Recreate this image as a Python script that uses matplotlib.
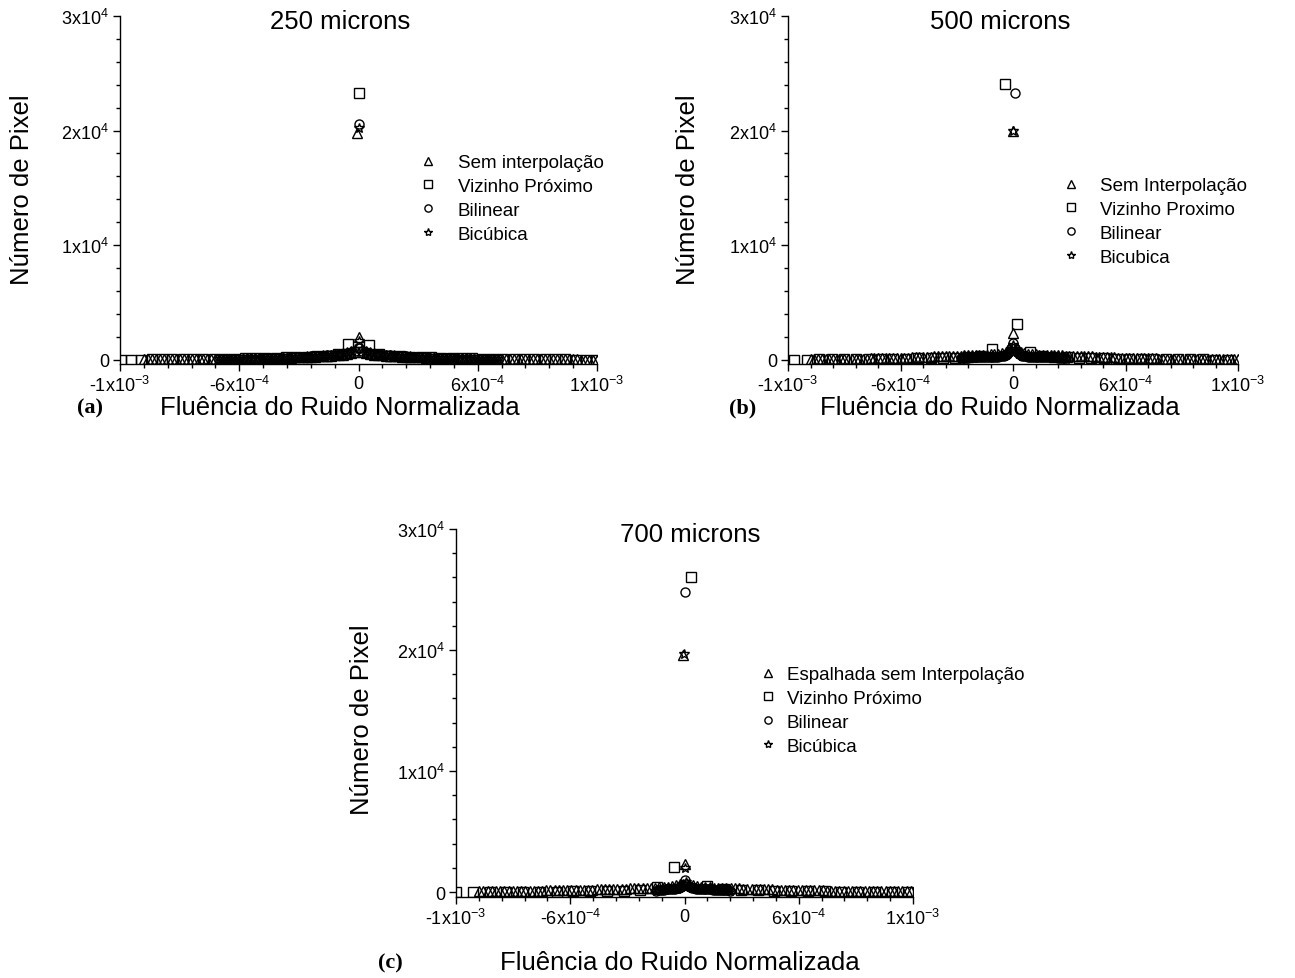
import numpy as np
import matplotlib.pyplot as plt
from matplotlib.ticker import MultipleLocator

plt.rcParams["font.family"] = ["Liberation Sans", "DejaVu Sans"]
plt.rcParams["mathtext.fontset"] = "custom"
plt.rcParams["mathtext.rm"] = "Liberation Sans"
plt.rcParams["mathtext.it"] = "Liberation Sans:italic"
plt.rcParams["mathtext.bf"] = "Liberation Sans:bold"
plt.rcParams["mathtext.default"] = "regular"

# ---------------- dados ----------------
xticks_val = [-1.2e-3, -6e-4, 0, 6e-4, 1.2e-3]
xticks_lab = ["-1x10$^{-3}$", "-6x10$^{-4}$", "0", "6x10$^{-4}$", "1x10$^{-3}$"]
yticks_val = [0, 1e4, 2e4, 3e4]
yticks_lab = ["0", "1x10$^4$", "2x10$^4$", "3x10$^4$"]

# (a) 250 microns
tri_a_x0, tri_a_dx = -1.08e-3, 2e-5
tri_a_y = [20, 20, 25, 25, 30, 30, 35, 35, 40, 40, 45, 45, 50, 55, 55, 60, 65, 70, 70, 75,
           80, 85, 90, 95, 100, 105, 110, 115, 120, 130, 135, 140, 150, 155, 165, 170, 180, 190, 200, 210,
           220, 235, 250, 265, 280, 300, 320, 345, 370, 400, 440, 490, 560, 680,
           2000,
           680, 560, 490, 440, 400, 370, 345, 320, 300, 280, 265, 250, 235, 220, 210, 200, 190, 180, 170, 165,
           155, 150, 140, 135, 130, 120, 115, 110, 105, 100, 95, 90, 85, 80, 75, 70, 70, 65, 60, 55,
           55, 50, 45, 45, 40, 40, 35, 35, 30, 30, 25, 25, 20, 20, 20, 15, 15, 15, 10, 10]
tri_a_pico = (-1e-5, 19800)
sq_a_x0, sq_a_dx = -1.196e-3, 5.2e-5
sq_a_y = [10, 10, 15, 20, 25, 30, 40, 50, 60, 70, 80, 100, 120, 140, 160, 180, 200, 230, 260, 300,
          360, 530, 1400, 23300, 1300, 530, 360, 300, 260, 230, 200, 180, 160, 140, 120, 100, 80, 70, 60, 50,
          40, 30, 25, 20, 15, 10, 10]
circ_a_x0, circ_a_dx = -7e-4, 2e-5
circ_a_y = [40, 45, 50, 55, 60, 65, 70, 75, 80, 90, 100, 110, 120, 130, 140, 150, 165, 180, 195, 210,
            225, 240, 260, 280, 300, 320, 345, 370, 400, 430, 460, 500, 560, 640, 760,
            1050,
            760, 640, 560, 500, 460, 430, 400, 370, 345, 320, 300, 280, 260, 240, 225,
            210, 195, 180, 165, 150, 140, 130, 120, 110, 100, 90, 80, 75, 70, 65, 60, 55, 50, 45, 40]
circ_a_pico = (0, 20600)
star_a_x0, star_a_dx = -7e-4, 2e-5
star_a_y = [30, 35, 40, 45, 50, 55, 60, 70, 80, 90, 100, 110, 120, 130, 145, 160, 175, 190, 205, 220,
            240, 260, 280, 300, 320, 345, 370, 400, 430, 470, 510, 560, 640, 760, 950,
            1600,
            950, 760, 640, 560, 510, 470, 430, 400, 370, 345, 320, 300, 280, 260, 240,
            220, 205, 190, 175, 160, 145, 130, 120, 110, 100, 90, 80, 70, 60, 55, 50, 45, 40, 35, 30]
star_a_pico = (0, 20200)

# (b) 500 microns
tri_b_x0, tri_b_dx = -1.08e-3, 2e-5
tri_b_y = [60, 60, 65, 65, 70, 70, 75, 75, 80, 80, 85, 85, 90, 95, 100, 105, 110, 115, 120, 125,
           130, 140, 150, 160, 170, 180, 190, 200, 215, 230, 245, 260, 275, 290, 300, 310, 320, 330, 340, 350,
           360, 370, 380, 390, 400, 410, 420, 440, 460, 480, 520, 580, 700, 1000,
           2370,
           1000, 700, 580, 520, 480, 460, 440, 420, 410, 400, 390, 380, 370, 360, 350, 340, 330, 320, 310, 300,
           290, 275, 260, 245, 230, 215, 200, 190, 180, 170, 160, 150, 140, 130, 125, 120, 115, 110, 105, 100,
           95, 90, 85, 80, 80, 75, 75, 70, 70, 65, 65, 60, 60, 55, 55, 50, 50, 45, 45, 40]
tri_b_pico = (0, 20000)
sq_b_x0, sq_b_dx = -1.166e-3, 6.6e-5
sq_b_y = [10, 10, 20, 25, 30, 40, 50, 60, 75, 90, 110, 130, 160, 190, 240, 320, 970,
          24100,
          3080, 640, 330, 250, 200, 160, 130, 110, 90, 75, 60, 50, 40, 30, 25, 20, 10, 10]
circ_b_x0, circ_b_dx = -2.8e-4, 1e-5
circ_b_y = [120, 150, 170, 180, 190, 195, 200, 200, 205, 210, 210, 215, 220, 220, 225, 230, 235, 240, 250, 260,
            270, 290, 320, 360, 420, 520, 700, 1000,
            1500,
            1000, 700, 520, 420, 360, 320, 290, 270, 260, 250, 240, 235, 230, 225, 220, 220, 215, 210, 210, 205,
            200, 200, 195, 190, 180, 170, 150, 120]
circ_b_pico = (1e-5, 23300)
star_b_x0, star_b_dx = -2.8e-4, 1e-5
star_b_y = [100, 130, 150, 165, 175, 180, 185, 190, 195, 200, 200, 205, 210, 210, 215, 220, 225, 230, 240, 250,
            260, 280, 310, 350, 400, 500, 650, 900,
            1300,
            900, 650, 500, 400, 350, 310, 280, 260, 250, 240, 230, 225, 220, 215, 210, 210, 205, 200, 200, 195,
            190, 185, 180, 175, 165, 150, 130, 100]
star_b_pico = (0, 20000)

# (c) 700 microns
tri_c_x0, tri_c_dx = -1.078e-3, 2.2e-5
tri_c_y = [80, 80, 85, 85, 90, 90, 95, 95, 100, 100, 105, 105, 110, 110, 115, 120, 125, 130, 135, 140,
           145, 150, 155, 160, 170, 180, 190, 200, 210, 220, 230, 240, 250, 260, 270, 280, 290, 300, 310, 320,
           335, 350, 365, 380, 400, 430, 470, 550, 700,
           2300,
           700, 550, 470, 430, 400, 380, 365, 350, 335, 320, 310, 300, 290, 280, 270, 260, 250, 240, 230, 220,
           210, 200, 190, 180, 170, 160, 155, 150, 145, 140, 135, 130, 125, 120, 115, 110, 110, 105, 105, 100,
           100, 95, 95, 90, 90, 85, 85, 80, 80, 75, 75, 70, 70, 65]
tri_c_pico = (-1e-5, 19600)
sq_c_x0, sq_c_dx = -1.2e-3, 8.8e-5
sq_c_y = [10, 10, 15, 20, 25, 30, 40, 50, 60, 80, 110, 160, 400, 2040,
          26000,
          520, 260, 180, 130, 100, 80, 60, 50, 40, 30, 20, 15, 10]
circ_c_x0, circ_c_dx = -1.5e-4, 1e-5
circ_c_y = [100, 160, 190, 200, 205, 210, 215, 220, 230, 240, 260, 290, 340, 430, 600,
            1000,
            700, 500, 400, 340, 300, 280, 260, 250, 240, 230, 225, 220, 215, 210,
            205, 200, 200, 195, 190, 185, 180, 170, 150, 110]
circ_c_pico = (0, 24800)
star_c_x0, star_c_dx = -1.5e-4, 1e-5
star_c_y = [90, 150, 180, 190, 200, 205, 210, 215, 220, 230, 250, 280, 330, 420, 650,
            2000,
            800, 520, 410, 350, 310, 285, 265, 250, 240, 230, 225, 220, 215, 210,
            205, 200, 195, 190, 185, 180, 170, 160, 140, 100]
star_c_pico = (-5e-6, 19700)

leg_a = ["Sem interpolação", "Vizinho Próximo", "Bilinear", "Bicúbica"]
leg_b = ["Sem Interpolação", "Vizinho Proximo", "Bilinear", "Bicubica"]
leg_c = ["Espalhada sem Interpolação", "Vizinho Próximo", "Bilinear", "Bicúbica"]

# ---------------- figura ----------------
W, H = 1295, 979
fig = plt.figure(figsize=(W / 100, H / 100), dpi=100)
marcadores = ["^", "s", "o", "*"]


def serie(x0, dx, y, pico=None):
    x = x0 + dx * np.arange(len(y))
    y = np.array(y, dtype=float)
    if pico is not None:
        x = np.append(x, pico[0])
        y = np.append(y, pico[1])
    return x, y


def painel(caixa, ymin, series, titulo, titulo_px, rotulos, leg_px, leg_pad,
           ylab_px, xlab_px, letra, letra_px):
    L, B, Wd, Ht = caixa
    ax = fig.add_axes([L / W, 1 - B / H, Wd / W, Ht / H])

    def frac(px, py):
        return (px - L) / Wd, (B - py) / Ht

    linhas = []
    for (x, y), m, lab in zip(series, marcadores, rotulos):
        ln, = ax.plot(x, y, linestyle="none", marker=m, ms=6.5 if m != "*" else 7.5,
                      mfc="none", mec="black", mew=1.0, label=lab)
        linhas.append(ln)

    ax.set_xlim(-1.2e-3, 1.2e-3)
    ax.set_ylim(ymin, 30000)
    ax.spines["top"].set_visible(False)
    ax.spines["right"].set_visible(False)
    for s in ["left", "bottom"]:
        ax.spines[s].set_linewidth(1.0)
    ax.set_xticks(xticks_val)
    ax.set_xticklabels(xticks_lab)
    ax.set_yticks(yticks_val)
    ax.set_yticklabels(yticks_lab)
    ax.xaxis.set_minor_locator(MultipleLocator(1.2e-4))
    ax.yaxis.set_minor_locator(MultipleLocator(2000))
    ax.tick_params(which="major", direction="out", length=5, width=1, labelsize=13, pad=3)
    ax.tick_params(which="minor", direction="out", length=3, width=1)

    ax.set_ylabel("Número de Pixel", fontsize=18.5, va="center")
    ax.yaxis.set_label_coords(*frac(*ylab_px))
    ax.set_xlabel("Fluência do Ruido Normalizada", fontsize=18.5, va="center")
    ax.xaxis.set_label_coords(*frac(*xlab_px))
    tx, ty = frac(*titulo_px)
    ax.text(tx, ty, titulo, transform=ax.transAxes, ha="center", va="center", fontsize=18.5)

    ax.legend(handles=linhas, loc="upper left",
              bbox_to_anchor=(leg_px[0] / W, 1 - leg_px[1] / H),
              bbox_transform=fig.transFigure, frameon=False, fontsize=13.5,
              handlelength=0.8, handletextpad=leg_pad, labelspacing=0.36,
              borderpad=0, borderaxespad=0, markerscale=0.8)

    fig.text(letra_px[0] / W, 1 - letra_px[1] / H, letra, ha="center", va="center",
             fontsize=16, fontweight="bold", family="Liberation Serif")
    return ax


# ---------------- 250 microns ----------------
painel((120, 365, 477, 348), -375,
       [serie(tri_a_x0, tri_a_dx, tri_a_y, tri_a_pico),
        serie(sq_a_x0, sq_a_dx, sq_a_y),
        serie(circ_a_x0, circ_a_dx, circ_a_y, circ_a_pico),
        serie(star_a_x0, star_a_dx, star_a_y, star_a_pico)],
       "250 microns", (340, 22), leg_a, (420, 155), 1.2,
       (22, 190), (340, 408), "(a)", (90, 408))

# ---------------- 500 microns ----------------
painel((788, 365, 450, 348), -375,
       [serie(tri_b_x0, tri_b_dx, tri_b_y, tri_b_pico),
        serie(sq_b_x0, sq_b_dx, sq_b_y),
        serie(circ_b_x0, circ_b_dx, circ_b_y, circ_b_pico),
        serie(star_b_x0, star_b_dx, star_b_y, star_b_pico)],
       "500 microns", (1000, 22), leg_b, (1063, 178), 1.16,
       (688, 190), (1000, 408), "(b)", (743, 408))

# ---------------- 700 microns ----------------
painel((456, 898, 457, 368), -413,
       [serie(tri_c_x0, tri_c_dx, tri_c_y, tri_c_pico),
        serie(sq_c_x0, sq_c_dx, sq_c_y),
        serie(circ_c_x0, circ_c_dx, circ_c_y, circ_c_pico),
        serie(star_c_x0, star_c_dx, star_c_y, star_c_pico)],
       "700 microns", (690, 535), leg_c, (760, 667), 0.63,
       (362, 720), (680, 963), "(c)", (390, 963))

fig.savefig("out.png", dpi=100)
